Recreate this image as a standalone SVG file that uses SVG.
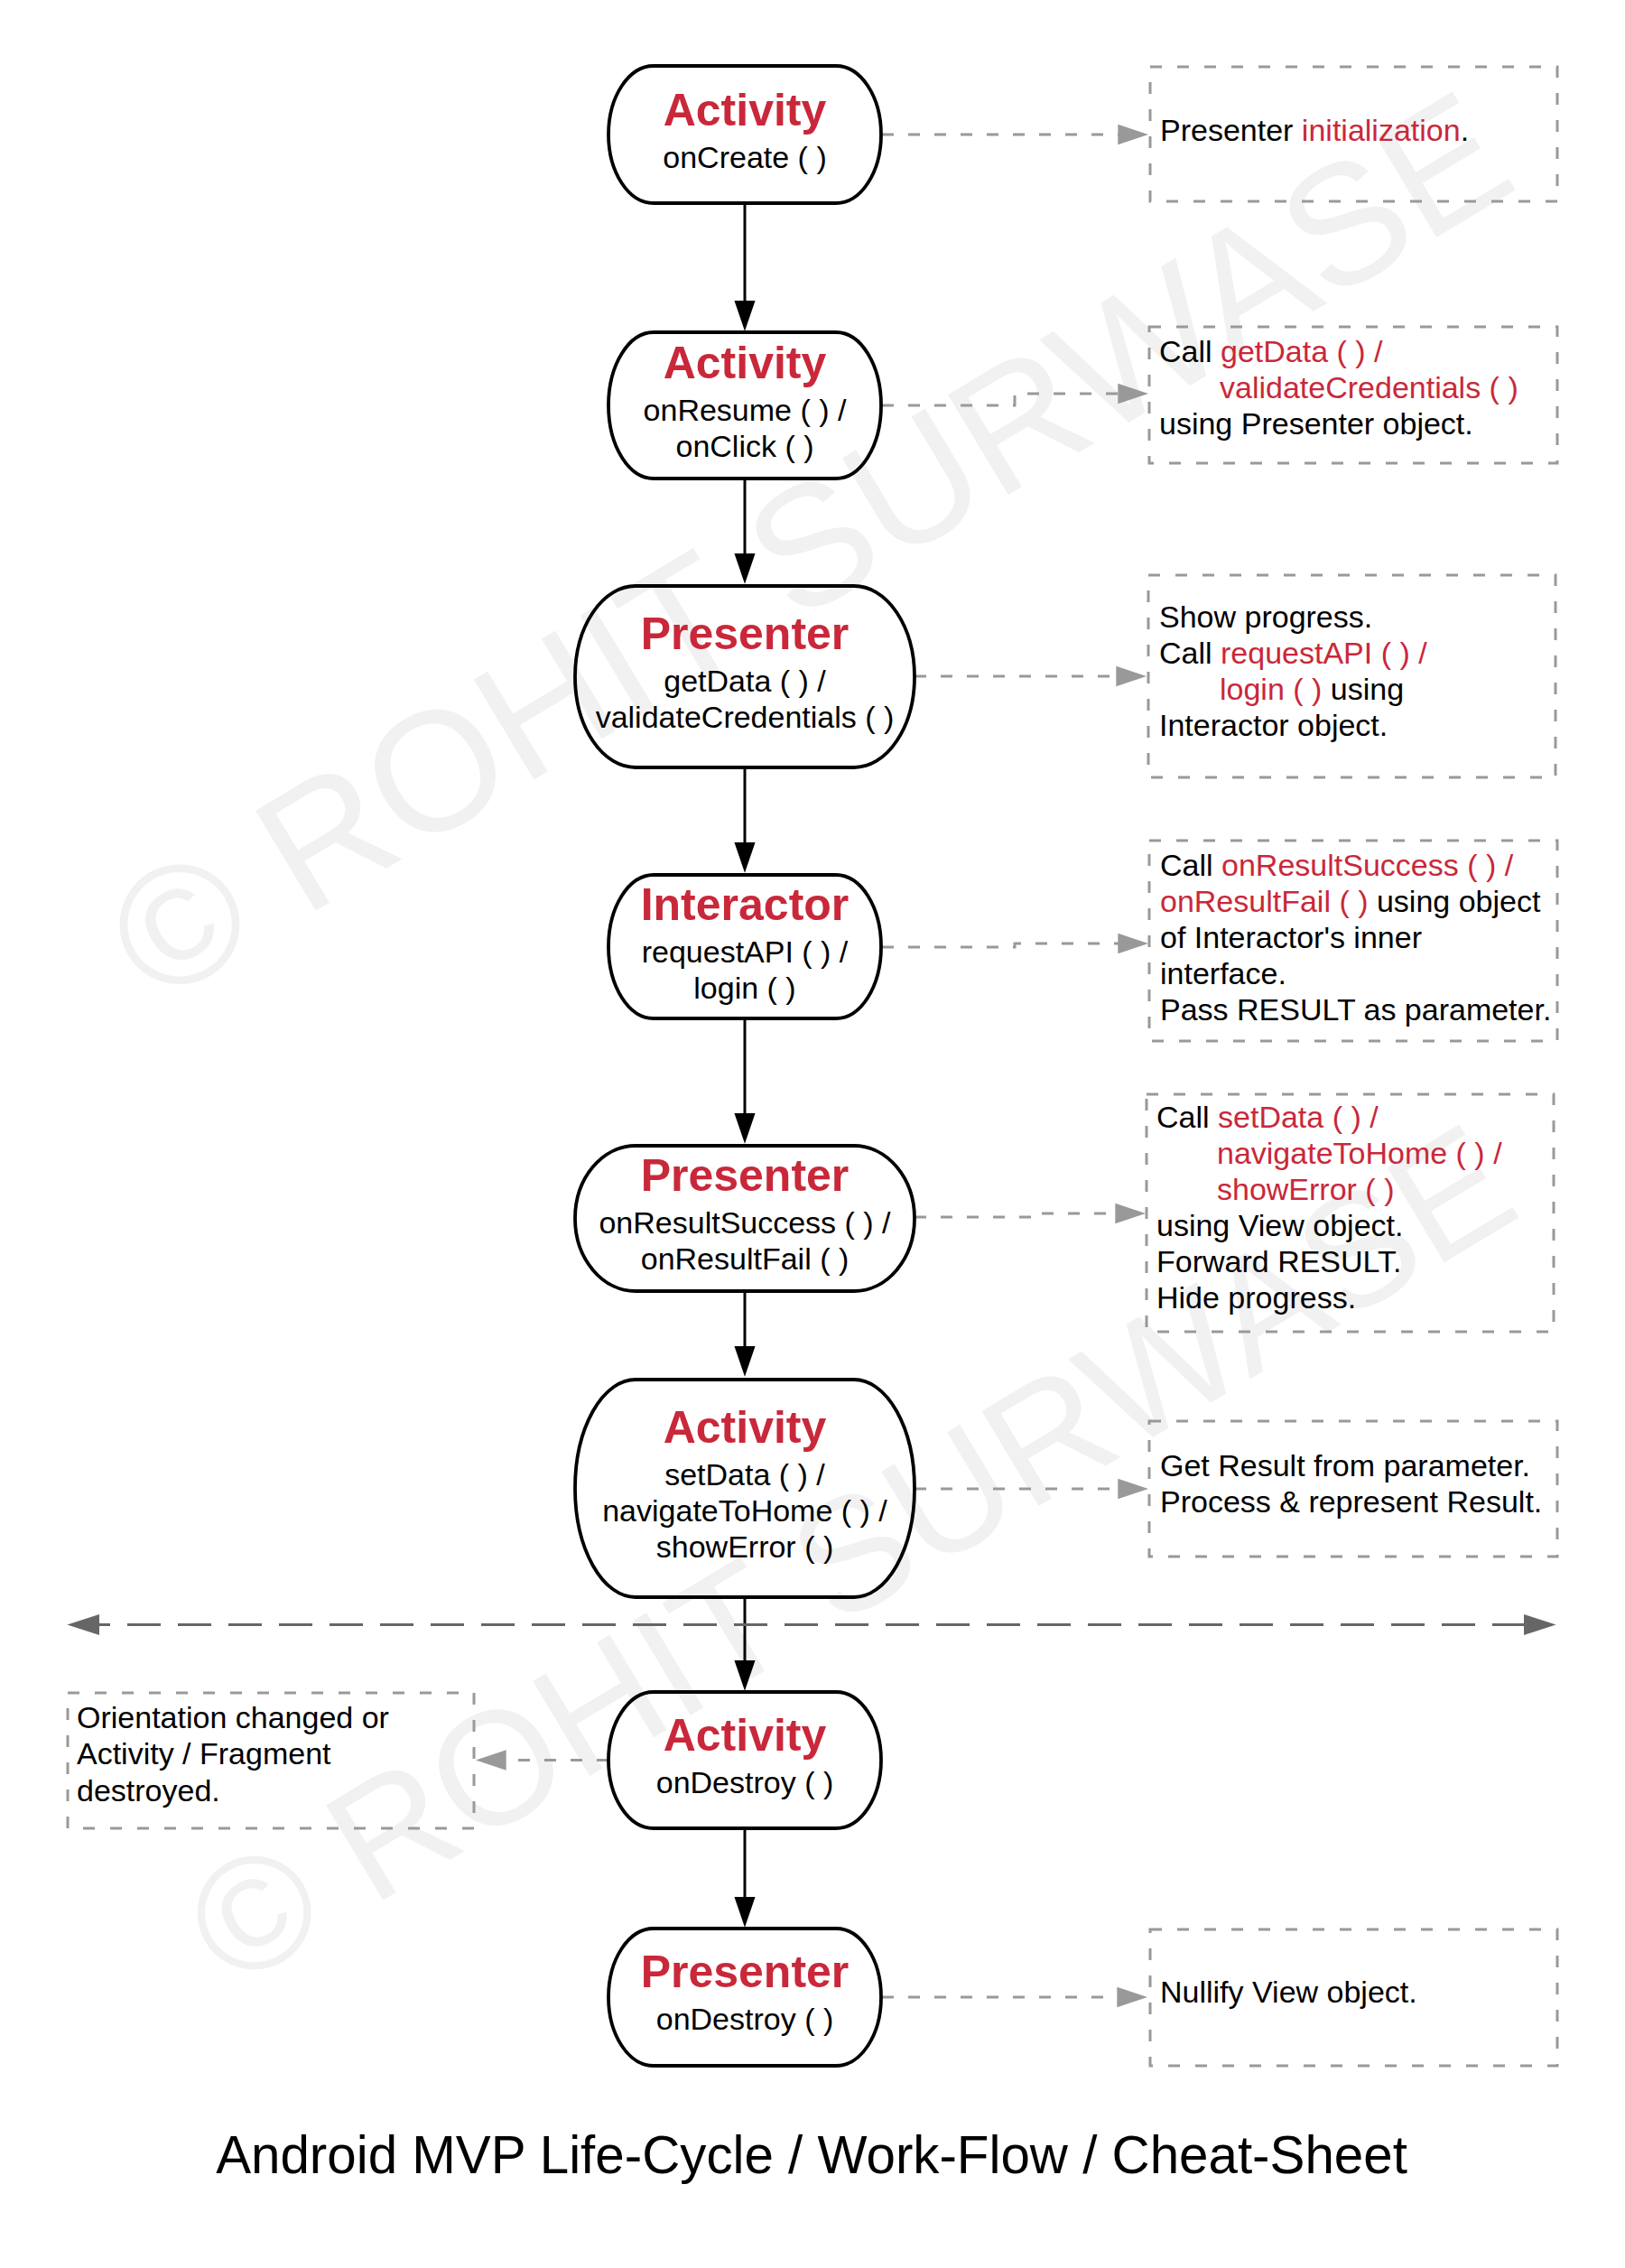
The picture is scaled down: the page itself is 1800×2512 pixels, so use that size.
<svg xmlns="http://www.w3.org/2000/svg" width="1800" height="2512" viewBox="0 0 1800 2512">
<style>
text{font-family:"Liberation Sans",Arial,sans-serif}
.wm{fill:#f1f1f1}
.node path{fill:none;stroke:#000;stroke-width:3.8}
.t{font-size:50px;font-weight:bold;fill:#c9283a;text-anchor:middle}
.s{font-size:34px;fill:#000;text-anchor:middle}
.note rect{fill:none;stroke:#999;stroke-width:3;stroke-dasharray:13 17}
.n{font-size:34px;fill:#000}
.r{fill:#c9283a}
.flow{fill:none;stroke:#000;stroke-width:3;marker-end:url(#ab)}
.dash{fill:none;stroke:#999;stroke-width:3;stroke-dasharray:13 16;marker-end:url(#ag)}
.sep{fill:none;stroke:#666;stroke-width:3;stroke-dasharray:37 19;marker-start:url(#ad);marker-end:url(#ad)}
.title{font-size:58.3px;fill:#000;text-anchor:middle}
</style>
<defs>
<marker id="ab" markerUnits="userSpaceOnUse" markerWidth="34" markerHeight="24" viewBox="0 0 32 22" refX="22" refY="11" orient="auto"><path d="M0,0 L32,11 L0,22 z" fill="#000"/></marker>
<marker id="ag" markerUnits="userSpaceOnUse" markerWidth="34" markerHeight="24" viewBox="0 0 33 22" refX="23" refY="11" orient="auto"><path d="M0,0 L33,11 L0,22 z" fill="#999"/></marker>
<marker id="ad" markerUnits="userSpaceOnUse" markerWidth="36" markerHeight="24" viewBox="0 0 34 22" refX="24" refY="11" orient="auto-start-reverse"><path d="M0,0 L34,11 L0,22 z" fill="#666"/></marker>
</defs>
<rect width="1800" height="2512" fill="#fff"/>
<g id="watermark">
<text class="wm" font-size="188" transform="translate(173,1115) rotate(-31)">© ROHIT SURWASE</text>
<text class="wm" font-size="178" transform="translate(257,2205) rotate(-31)">© ROHIT SURWASE</text>
</g>
<g id="connectors">
<path class="flow" d="M825,225 V356"/>
<path class="flow" d="M825,530 V636"/>
<path class="flow" d="M825,850 V956"/>
<path class="flow" d="M825,1128 V1256"/>
<path class="flow" d="M825,1430 V1514"/>
<path class="flow" d="M825,1769 V1862"/>
<path class="flow" d="M825,2025 V2124"/>
<path class="dash" d="M977,149 H1262"/>
<path class="dash" d="M977,449 H1124 V436 H1262"/>
<path class="dash" d="M1013,749 H1260"/>
<path class="dash" d="M977,1049 H1124 V1045 H1262"/>
<path class="dash" d="M1013,1348 H1143 V1344 H1259"/>
<path class="dash" d="M1013,1649 H1262"/>
<path class="dash" d="M674,1949.5 H537"/>
<path class="dash" d="M977,2212 H1261"/>
<path class="sep" d="M85,1799.5 H1713"/>
</g>
<g id="n1" class="node">
<path d="M724,73 H926 A50,76 0 0 1 926,225 H724 A50,76 0 0 1 724,73 Z"/>
<text class="t" x="825" y="139">Activity</text>
<text class="s" x="825" y="186">onCreate ( )</text>
</g>
<g id="n2" class="node">
<path d="M724,368 H926 A50,81 0 0 1 926,530 H724 A50,81 0 0 1 724,368 Z"/>
<text class="t" x="825" y="419">Activity</text>
<text class="s" x="825" y="466">onResume ( ) /</text>
<text class="s" x="825" y="506">onClick ( )</text>
</g>
<g id="n3" class="node">
<path d="M704,649 H946 A67,100.5 0 0 1 946,850 H704 A67,100.5 0 0 1 704,649 Z"/>
<text class="t" x="825" y="719">Presenter</text>
<text class="s" x="825" y="766">getData ( ) /</text>
<text class="s" x="825" y="806">validateCredentials ( )</text>
</g>
<g id="n4" class="node">
<path d="M724,969 H926 A50,79.5 0 0 1 926,1128 H724 A50,79.5 0 0 1 724,969 Z"/>
<text class="t" x="825" y="1019">Interactor</text>
<text class="s" x="825" y="1066">requestAPI ( ) /</text>
<text class="s" x="825" y="1106">login ( )</text>
</g>
<g id="n5" class="node">
<path d="M704,1269 H946 A67,80.5 0 0 1 946,1430 H704 A67,80.5 0 0 1 704,1269 Z"/>
<text class="t" x="825" y="1319">Presenter</text>
<text class="s" x="825" y="1366">onResultSuccess ( ) /</text>
<text class="s" x="825" y="1406">onResultFail ( )</text>
</g>
<g id="n6" class="node">
<path d="M704,1528 H946 A67,120.5 0 0 1 946,1769 H704 A67,120.5 0 0 1 704,1528 Z"/>
<text class="t" x="825" y="1598">Activity</text>
<text class="s" x="825" y="1645">setData ( ) /</text>
<text class="s" x="825" y="1685">navigateToHome ( ) /</text>
<text class="s" x="825" y="1725">showError ( )</text>
</g>
<g id="n7" class="node">
<path d="M724,1874 H926 A50,75.5 0 0 1 926,2025 H724 A50,75.5 0 0 1 724,1874 Z"/>
<text class="t" x="825" y="1939">Activity</text>
<text class="s" x="825" y="1986">onDestroy ( )</text>
</g>
<g id="n8" class="node">
<path d="M724,2136 H926 A50,76 0 0 1 926,2288 H724 A50,76 0 0 1 724,2136 Z"/>
<text class="t" x="825" y="2201">Presenter</text>
<text class="s" x="825" y="2248">onDestroy ( )</text>
</g>
<g id="note1" class="note">
<rect x="1274" y="74" width="451" height="149"/>
<text class="n" x="1285" y="156">Presenter <tspan class="r">initialization</tspan>.</text>
</g>
<g id="note2" class="note">
<rect x="1273" y="362" width="452" height="151"/>
<text class="n" x="1284" y="401">Call <tspan class="r">getData ( ) /</tspan></text>
<text class="n r" x="1351" y="441">validateCredentials ( )</text>
<text class="n" x="1284" y="481">using Presenter object.</text>
</g>
<g id="note3" class="note">
<rect x="1272" y="637" width="451" height="224"/>
<text class="n" x="1284" y="695">Show progress.</text>
<text class="n" x="1284" y="735">Call <tspan class="r">requestAPI ( ) /</tspan></text>
<text class="n" x="1351" y="775"><tspan class="r">login ( )</tspan> using</text>
<text class="n" x="1284" y="815">Interactor object.</text>
</g>
<g id="note4" class="note">
<rect x="1273" y="931" width="452" height="222"/>
<text class="n" x="1285" y="970">Call <tspan class="r">onResultSuccess ( ) /</tspan></text>
<text class="n" x="1285" y="1010"><tspan class="r">onResultFail ( )</tspan> using object</text>
<text class="n" x="1285" y="1050">of Interactor's inner</text>
<text class="n" x="1285" y="1090">interface.</text>
<text class="n" x="1285" y="1130">Pass RESULT as parameter.</text>
</g>
<g id="note5" class="note">
<rect x="1270" y="1212" width="451" height="263"/>
<text class="n" x="1281" y="1249">Call <tspan class="r">setData ( ) /</tspan></text>
<text class="n r" x="1348" y="1289">navigateToHome ( ) /</text>
<text class="n r" x="1348" y="1329">showError ( )</text>
<text class="n" x="1281" y="1369">using View object.</text>
<text class="n" x="1281" y="1409">Forward RESULT.</text>
<text class="n" x="1281" y="1449">Hide progress.</text>
</g>
<g id="note6" class="note">
<rect x="1273" y="1574" width="452" height="150"/>
<text class="n" x="1285" y="1635">Get Result from parameter.</text>
<text class="n" x="1285" y="1675">Process &amp; represent Result.</text>
</g>
<g id="note7" class="note">
<rect x="75" y="1875" width="450" height="150"/>
<text class="n" x="85" y="1914">Orientation changed or</text>
<text class="n" x="85" y="1954">Activity / Fragment</text>
<text class="n" x="85" y="1995">destroyed.</text>
</g>
<g id="note8" class="note">
<rect x="1274" y="2137" width="451" height="151"/>
<text class="n" x="1285" y="2218">Nullify View object.</text>
</g>
<text class="title" x="899" y="2407">Android MVP Life-Cycle / Work-Flow / Cheat-Sheet</text>
</svg>
